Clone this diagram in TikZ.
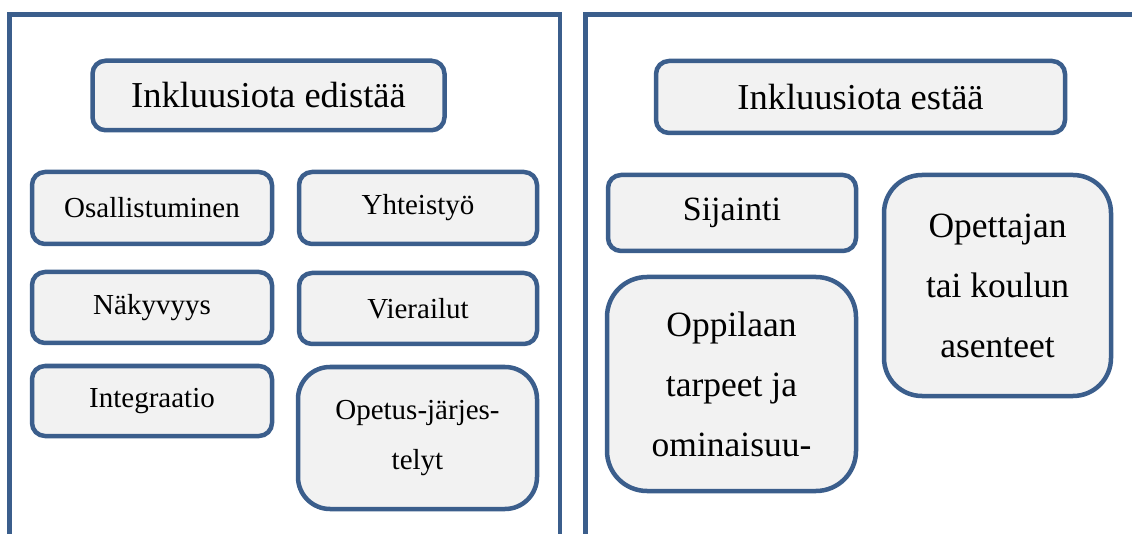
\documentclass[tikz,border=0pt]{standalone}
\usepackage{fontspec}
\setmainfont{Liberation Serif}
\definecolor{frameblue}{RGB}{59,94,140}
\definecolor{boxfill}{RGB}{242,242,242}
\begin{document}
\begin{tikzpicture}[x=1pt,y=-1pt,
  panel/.style={draw=frameblue,line width=4.5pt},
  card/.style={draw=frameblue,fill=boxfill,line width=4.5pt,rounded corners=13pt,
    inner sep=0pt,align=center,text=black},
  heading/.style={card,font=\fontsize{36.5}{40}\selectfont},
  smallcard/.style={card,font=\fontsize{29}{32}\selectfont},
  tallcard/.style={card,rounded corners=32pt,font=\fontsize{29}{50}\selectfont},
  bigcard/.style={card,rounded corners=40pt,font=\fontsize{35.5}{60}\selectfont},
  midcard/.style={card,font=\fontsize{34}{40}\selectfont}]
\useasboundingbox (0,0) rectangle (1132,534);

% open-bottomed panels
\draw[panel] (9.5,536) |- (560,14.5) -- (560,536);
\draw[panel] (585.5,536) |- (1134,14.5);

% left panel: factors that promote inclusion
\node[heading,minimum width=352pt,minimum height=69.5pt] (pro) at (268.5,95.5) {Inkluusiota edistää};
\node[smallcard,minimum width=240pt,minimum height=72pt] (osal) at (152,208) {Osallistuminen};
\node[smallcard,minimum width=238pt,minimum height=72pt] (yht) at (418,208) {Yhteistyö};
\node[smallcard,minimum width=240pt,minimum height=71pt] (nak) at (152,307.5) {Näkyvyys};
\node[smallcard,minimum width=238pt,minimum height=71pt] (vier) at (418,308.5) {Vierailut};
\node[smallcard,minimum width=240pt,minimum height=70pt] (integ) at (152,401) {Integraatio};
\node[tallcard,minimum width=239pt,minimum height=142pt] (opet) at (417.5,438) {Opetus-järjes-\\telyt};

% right panel: factors that hinder inclusion
\node[heading,minimum width=409pt,minimum height=72pt] (con) at (860.5,97) {Inkluusiota estää};
\node[midcard,minimum width=248pt,minimum height=76pt] (sij) at (732,213) {Sijainti};
\node[bigcard,minimum width=249pt,minimum height=214pt] (opp) at (731.5,384) {Oppilaan\\tarpeet ja\\ominaisuu-};
\node[bigcard,rounded corners=38pt,minimum width=227pt,minimum height=221pt] (asen) at (997.5,285.5) {Opettajan\\tai koulun\\asenteet};
\end{tikzpicture}
\end{document}
